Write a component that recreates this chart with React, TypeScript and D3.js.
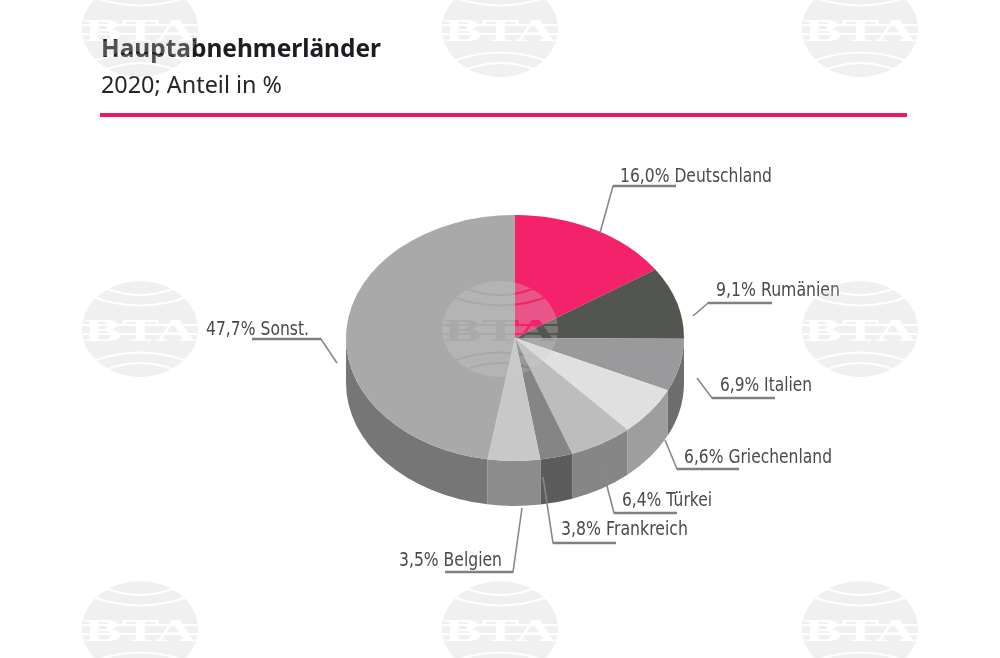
import React from 'react';
import * as d3 from 'd3';

const countries = ['Deutschland', 'Rumänien', 'Italien', 'Griechenland', 'Türkei', 'Frankreich', 'Belgien', 'Sonst.'];
const shares = [16.0, 9.1, 6.9, 6.6, 6.4, 3.8, 3.5, 47.7];
// slice widths as they are drawn in the picture, not quite the printed numbers
const drawnShares = [15.6, 9.5, 6.9, 6.4, 6.1, 3.1, 5.0, 47.4];
const topColors = ['#f4226a', '#535451', '#9a999b', '#e0e0e0', '#bdbdbd', '#858585', '#c8c8c8', '#a9a9a9'];
const sideColors = ['#c01050', '#3a3a38', '#6d6d6f', '#9e9e9e', '#868686', '#5c5c5c', '#8c8c8c', '#767676'];

// label placement: text start, baseline, text width, leader polyline
const labelPlaces: { x: number; y: number; w: number; line: [number, number][] }[] = [
  { x: 620, y: 181.5, w: 152, line: [[600, 233], [613, 186], [676, 186]] },
  { x: 716, y: 295.5, w: 124, line: [[693, 316], [708, 303], [772, 303]] },
  { x: 720, y: 391, w: 92, line: [[697, 378], [712, 398], [775, 398]] },
  { x: 684, y: 462.5, w: 148, line: [[665, 440], [677, 469], [739, 469]] },
  { x: 622, y: 505.5, w: 90, line: [[601, 463], [614, 513], [677, 513]] },
  { x: 561, y: 535, w: 127, line: [[543, 477], [553, 543], [616, 543]] },
  { x: 399, y: 566, w: 103, line: [[522, 508], [513, 572], [445, 572]] },
  { x: 206, y: 335, w: 103, line: [[337, 363], [321, 339], [252, 339]] },
];

const logoCentersX = [140, 500, 860];
const logoCentersY = [29, 329, 629];

const cx = 515;
const cy = 338;
const rx = 169;
const ry = 123;
const depth = 45;

const fmt = (v: number) => v.toFixed(1).replace('.', ',') + '%';

function sidePath(a0: number, a1: number) {
  // only the front half of the rim is visible
  const from = Math.max(a0, Math.PI / 2);
  const to = Math.min(a1, (3 * Math.PI) / 2);
  if (to <= from) return null;
  const px = (a: number) => cx + rx * Math.sin(a);
  const py = (a: number) => cy - ry * Math.cos(a);
  return (
    `M${px(from)},${py(from)}` +
    `A${rx},${ry} 0 0 1 ${px(to)},${py(to)}` +
    `L${px(to)},${py(to) + depth}` +
    `A${rx},${ry} 0 0 0 ${px(from)},${py(from) + depth}Z`
  );
}

function Logo({ x, y }: { x: number; y: number }) {
  const id = `logo-${x}-${y}`;
  const arc = (dx: number, y0: number, y1: number) => {
    const p = d3.path();
    p.moveTo(x - dx, y + y0);
    p.quadraticCurveTo(x, y + y1, x + dx, y + y0);
    return p.toString();
  };
  return (
    <g>
      <mask id={id} maskUnits="userSpaceOnUse" x={x - 70} y={y - 60} width={140} height={120}>
        <rect x={x - 70} y={y - 60} width={140} height={120} fill="#fff" />
        {[arc(35, -41, -27), arc(47, -32, -15), arc(47, 32, 15), arc(35, 41, 27)].map((d, i) => (
          <path key={i} d={d} fill="none" stroke="#000" strokeWidth={2} />
        ))}
        <rect x={x - 60} y={y - 5} width={120} height={2} fill="#000" />
        <rect x={x - 60} y={y + 4} width={120} height={2} fill="#000" />
        <text
          x={x - 56}
          y={y + 12}
          textLength={112}
          lengthAdjust="spacingAndGlyphs"
          fontFamily="'Liberation Serif'"
          fontWeight="bold"
          fontSize={32}
          fill="#000"
        >
          BTA
        </text>
      </mask>
      <ellipse cx={x} cy={y} rx={58} ry={48} fill="#cdcdcd" fillOpacity={0.3} mask={`url(#${id})`} />
    </g>
  );
}

export default function App() {
  const slices = d3
    .pie<number>()
    .sort(null)
    .startAngle(0)
    .endAngle(2 * Math.PI)(drawnShares);
  const arc = d3.arc<d3.PieArcDatum<number>>().innerRadius(0).outerRadius(rx);

  return (
    <svg width={1000} height={658} style={{ position: 'absolute', left: 0, top: 0, background: '#fff' }}>
      <defs>
        <filter id="soft" x="-5%" y="-5%" width="110%" height="110%">
          <feGaussianBlur stdDeviation={0.7} />
        </filter>
      </defs>
      <g filter="url(#soft)">
        <text x={101} y={57} fontFamily="'Noto Sans', 'Open Sans'" fontWeight="bold" fontSize={24.5} fill="#1d1d22" textLength={280} lengthAdjust="spacingAndGlyphs">
          Hauptabnehmerländer
        </text>
        <text x={101} y={92.5} fontFamily="'Noto Sans', 'Open Sans'" fontSize={23} fill="#26262b" textLength={181} lengthAdjust="spacingAndGlyphs">
          2020; Anteil in %
        </text>
        <rect x={100} y={113} width={807} height={4} fill="#ee1660" />

        {slices.map((s, i) => {
          const d = sidePath(s.startAngle, s.endAngle);
          return d ? <path key={i} d={d} fill={sideColors[i]} /> : null;
        })}
        <g transform={`translate(${cx},${cy}) scale(1,${ry / rx})`}>
          {slices.map((s, i) => (
            <path key={i} d={arc(s) as string} fill={topColors[i]} />
          ))}
        </g>

        {labelPlaces.map((l, i) => (
          <g key={i}>
            <path d={d3.line()(l.line) as string} fill="none" stroke="#888" strokeWidth={1.6} />
            <path d={d3.line()(l.line.slice(1)) as string} fill="none" stroke="#808080" strokeWidth={2.6} />
            <text
              x={l.x}
              y={l.y}
              textLength={l.w}
              lengthAdjust="spacingAndGlyphs"
              fontFamily="'DejaVu Sans'"
              fontSize={20}
              fill="#4a4a4a"
            >
              {fmt(shares[i])} {countries[i]}
            </text>
          </g>
        ))}
      </g>
      {logoCentersY.map(y => logoCentersX.map(x => <Logo key={`${x}-${y}`} x={x} y={y} />))}
    </svg>
  );
}
